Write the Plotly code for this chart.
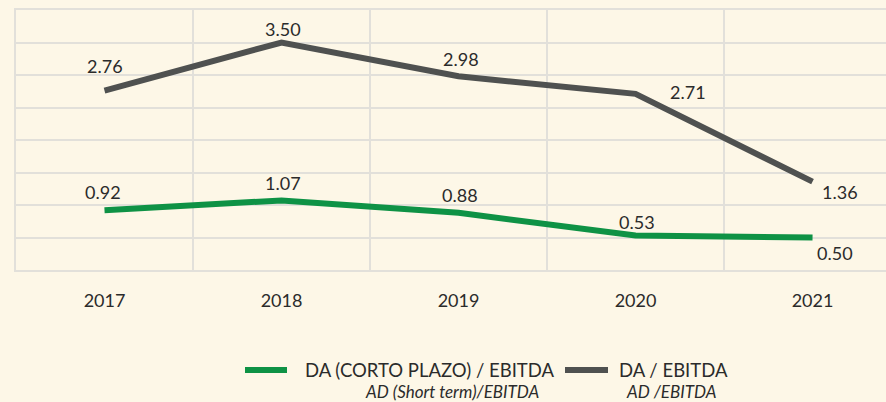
import plotly.graph_objects as go

years = ["2017", "2018", "2019", "2020", "2021"]
da_short = [0.92, 1.07, 0.88, 0.53, 0.50]
da_total = [2.76, 3.50, 2.98, 2.71, 1.36]
name_short = "DA (CORTO PLAZO) / EBITDA"
name_total = "DA / EBITDA"
sub_short = "AD (Short term)/EBITDA"
sub_total = "AD /EBITDA"

BG = "#FDF7E7"
GREEN = "#0E9245"
GRAY = "#4F5150"
TXT = "#2B2B2B"
GRID = "#E2E0DA"
FONT = "Lato"

W, H = 886, 402
ML, MT, MB = 16, 10, 132
PW, PH = W - ML, H - MT - MB


def px(x):
    return (x - ML) / PW


def py(y):
    return (H - MB - y) / PH


fig = go.Figure()
fig.add_trace(go.Scatter(x=years, y=da_short, mode="lines", name=name_short,
                         line=dict(color=GREEN, width=6), showlegend=False, hoverinfo="skip"))
fig.add_trace(go.Scatter(x=years, y=da_total, mode="lines", name=name_total,
                         line=dict(color=GRAY, width=6), showlegend=False, hoverinfo="skip"))

# label offsets (x px, y px) per point
off_total = [(0, 25), (1, 14), (2, 17), (52, 2), (27, -10)]
off_short = [(-2, 18), (1, 17), (1, 18), (1, 14), (22, -15)]
ann = []
for i in range(len(years)):
    ann.append(dict(x=i, y=da_total[i], text=f"{da_total[i]:.2f}", showarrow=False,
                    xshift=off_total[i][0], yshift=off_total[i][1],
                    font=dict(size=18, color=TXT, family=FONT)))
    ann.append(dict(x=i, y=da_short[i], text=f"{da_short[i]:.2f}", showarrow=False,
                    xshift=off_short[i][0], yshift=off_short[i][1],
                    font=dict(size=18, color=TXT, family=FONT)))

# custom legend
leg = [
    (name_short, sub_short, GREEN, 245, 287, 303, 542),
    (name_total, sub_total, GRAY, 565, 608, 617, 719),
]
shapes = []
for name, sub, col, x0, x1, tx, sx in leg:
    shapes.append(dict(type="line", xref="paper", yref="paper", x0=px(x0), x1=px(x1),
                       y0=py(370), y1=py(370), line=dict(color=col, width=6)))
    ann.append(dict(xref="paper", yref="paper", x=px(tx), y=py(370), xanchor="left",
                    yanchor="middle", text=name, showarrow=False,
                    font=dict(size=18.5, color=TXT, family=FONT)))
    ann.append(dict(xref="paper", yref="paper", x=px(sx), y=py(391), xanchor="right",
                    yanchor="middle", text=f"<i>{sub}</i>", showarrow=False,
                    font=dict(size=17, color=TXT, family=FONT)))

fig.update_layout(
    width=W, height=H,
    margin=dict(l=ML, r=0, t=MT, b=MB),
    paper_bgcolor=BG, plot_bgcolor=BG,
    font=dict(family=FONT, size=18, color=TXT),
    showlegend=False,
    hovermode=False,
    annotations=ann,
    shapes=shapes,
    xaxis=dict(type="category", range=[-0.5, 4.415], showgrid=True, gridcolor=GRID,
               gridwidth=1.5, tickson="boundaries", ticks="", zeroline=False,
               showline=True, linecolor=GRID, linewidth=1.5, mirror=True,
               tickfont=dict(size=18, color=TXT), ticklabelstandoff=14),
    yaxis=dict(range=[0, 4], dtick=0.5, showgrid=True, gridcolor=GRID, gridwidth=1.5,
               showline=True, linecolor=GRID, linewidth=1.5, mirror=False,
               showticklabels=False, ticks="", zeroline=False),
)
fig.write_html("out.html", config={"displayModeBar": False},
               post_script="document.body.style.margin='0';document.body.style.overflow='hidden';")
